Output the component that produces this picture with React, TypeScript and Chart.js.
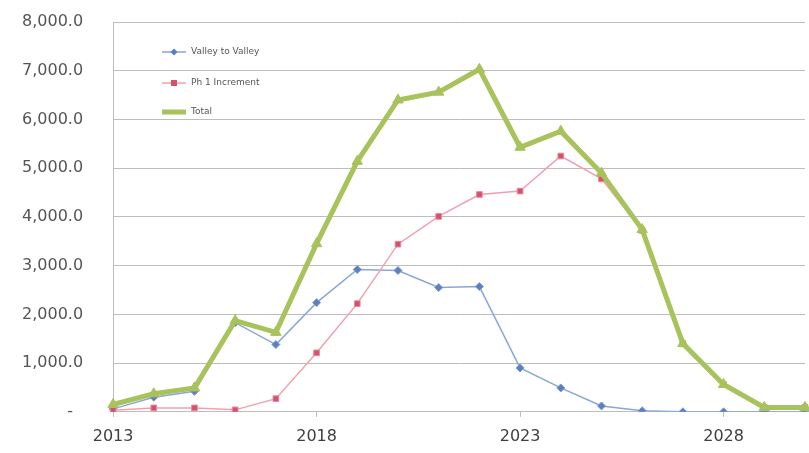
import React, { useEffect, useRef } from "react";
import { Chart, registerables } from "chart.js";

Chart.register(...registerables);

const years = ["2013","2014","2015","2016","2017","2018","2019","2020","2021","2022","2023","2024","2025","2026","2027","2028","2029","2030"];
const valleyToValley = [60, 300, 420, 1830, 1380, 2240, 2920, 2900, 2550, 2570, 900, 490, 120, 20, 0, 0, 0, 0];
const ph1Increment = [30, 80, 80, 40, 270, 1210, 2220, 3440, 4010, 4460, 4530, 5250, 4780, 3720, 1400, 560, 90, 90];
const total = [150, 370, 490, 1870, 1630, 3450, 5140, 6400, 6560, 7030, 5430, 5760, 4900, 3740, 1400, 560, 90, 90];
const yTicks = [0, 1000, 2000, 3000, 4000, 5000, 6000, 7000, 8000];

const FONT = "'DejaVu Sans', sans-serif";

const legendPlugin = {
  id: "innerLegend",
  afterDraw(chart: any) {
    const ctx = chart.ctx;
    const items = [
      { label: "Valley to Valley", color: "#8aa6d8", mark: "#5b7fc0", style: "diamond", width: 1.5 },
      { label: "Ph 1 Increment", color: "#f2a0b0", mark: "#d6506a", style: "square", width: 1.5 },
      { label: "Total", color: "#a8c25c", mark: "#a8c25c", style: "none", width: 5 },
    ];
    const x0 = 162, x1 = 186, tx = 191;
    const ys = [52, 83, 112];
    ctx.save();
    items.forEach((it, i) => {
      const y = ys[i];
      ctx.strokeStyle = it.color;
      ctx.lineWidth = it.width;
      ctx.beginPath();
      ctx.moveTo(x0, y);
      ctx.lineTo(x1, y);
      ctx.stroke();
      const cx = (x0 + x1) / 2;
      ctx.fillStyle = it.mark;
      if (it.style === "diamond") {
        ctx.beginPath();
        ctx.moveTo(cx, y - 3.5);
        ctx.lineTo(cx + 3.5, y);
        ctx.lineTo(cx, y + 3.5);
        ctx.lineTo(cx - 3.5, y);
        ctx.closePath();
        ctx.fill();
      } else if (it.style === "square") {
        ctx.fillRect(cx - 3, y - 3, 6, 6);
      }
      ctx.fillStyle = "#555";
      ctx.font = "9px " + FONT;
      ctx.textBaseline = "middle";
      ctx.textAlign = "left";
      ctx.fillText(it.label, tx, y);
    });
    ctx.restore();
  },
};

export default function App() {
  const ref = useRef<HTMLCanvasElement>(null);
  useEffect(() => {
    if (!ref.current) return;
    const chart = new Chart(ref.current, {
      type: "line",
      data: {
        labels: years,
        datasets: [
          {
            label: "Valley to Valley",
            data: valleyToValley,
            borderColor: "#8aa6d8",
            backgroundColor: "#5b7fc0",
            pointBorderColor: "#7f9ad0",
            pointStyle: "rectRot",
            pointRadius: 4,
            pointBorderWidth: 1,
            borderWidth: 1.5,
            tension: 0,
            order: 2,
          },
          {
            label: "Ph 1 Increment",
            data: ph1Increment,
            borderColor: "#f2a0b0",
            backgroundColor: "#d6506a",
            pointBorderColor: "#e58aa0",
            pointStyle: "rect",
            pointRadius: 4,
            pointBorderWidth: 1,
            borderWidth: 1.5,
            tension: 0,
            order: 1,
          },
          {
            label: "Total",
            data: total,
            borderColor: "#a8c25c",
            backgroundColor: "#a8c25c",
            pointBorderColor: "#a8c25c",
            pointStyle: "triangle",
            pointRadius: 6,
            pointBorderWidth: 1,
            borderWidth: 5,
            tension: 0,
            order: 0,
          },
        ],
      },
      options: {
        animation: false,
        responsive: false,
        maintainAspectRatio: false,
        layout: { padding: { left: 20, right: 0, top: 22, bottom: -3 } },
        plugins: { legend: { display: false }, tooltip: { enabled: false } },
        scales: {
          x: {
            type: "category",
            offset: false,
            grid: {
              drawOnChartArea: false,
              drawTicks: true,
              tickLength: 5,
              color: (c: any) => (c.index % 5 === 0 ? "#bdbdbd" : "rgba(0,0,0,0)"),
            },
            border: { color: "#bdbdbd", width: 1 },
            ticks: {
              autoSkip: false,
              maxRotation: 0,
              padding: 10,
              color: "#3f3f3f",
              font: { family: FONT, size: 16 },
              callback: (_v: any, i: number) => (i % 5 === 0 ? years[i] : ""),
            },
          },
          y: {
            min: 0,
            max: 8000,
            afterBuildTicks: (axis: any) => {
              axis.ticks = yTicks.map((v) => ({ value: v }));
            },
            grid: { color: "#bdbdbd", lineWidth: 1, drawTicks: true, tickLength: 28, tickColor: "rgba(0,0,0,0)" },
            border: { color: "#bdbdbd", width: 1 },
            ticks: {
              padding: 2,
              color: "#555555",
              font: { family: FONT, size: 16 },
              callback: (v: any) =>
                v === 0 ? "-  " : Number(v).toLocaleString("en-US", { minimumFractionDigits: 1, maximumFractionDigits: 1 }),
            },
          },
        },
      },
      plugins: [legendPlugin],
    });
    return () => chart.destroy();
  }, []);
  return (
    <div style={{ position: "absolute", left: 0, top: 0, width: 809, height: 453, overflow: "hidden", background: "#fff" }}>
      <canvas ref={ref} width={815} height={453} style={{ width: 815, height: 453, display: "block" }} />
    </div>
  );
}
